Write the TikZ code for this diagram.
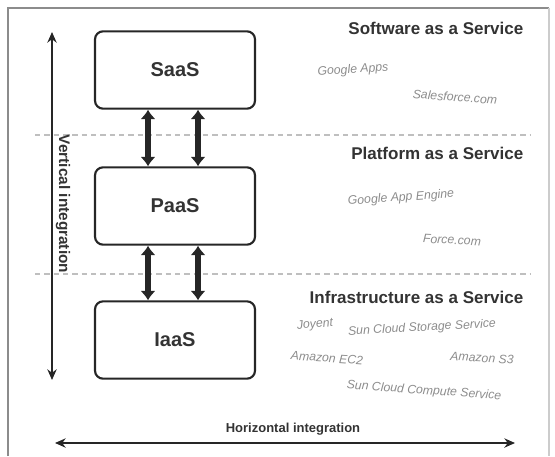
\documentclass[tikz,border=0pt]{standalone}
\usepackage{fontspec}
\setmainfont{Liberation Sans}
\usetikzlibrary{arrows.meta,calc}

\tikzset{
    layerbox/.style={draw=black!85, line width=1.6pt, rounded corners=6pt,
        minimum width=120pt, minimum height=58pt,
        font=\fontsize{15}{17}\selectfont\bfseries, text=black!80},
    heading/.style={anchor=east, font=\fontsize{12.75}{15}\selectfont\bfseries,
        text=black!80},
    vendor/.style={font=\fontsize{9.2}{11}\selectfont\itshape, text=black!45},
    linkarrow/.style={line width=4.4pt, black!85,
        {Latex[length=7pt,width=11.5pt]}-{Latex[length=7pt,width=11.5pt]}},
    axisarrow/.style={line width=1.1pt, black!85,
        {Stealth[length=8pt,width=7pt]}-{Stealth[length=8pt,width=7pt]}},
    layerline/.style={black!25, line width=0.8pt, dash pattern=on 4pt off 3pt},
    axislabel/.style={font=\fontsize{9.75}{12}\selectfont\bfseries, text=black!80}
}

\begin{document}
\begin{tikzpicture}[x=0.75pt, y=-0.75pt]
    \useasboundingbox (0,0) rectangle (555,456);

    % frame
    \draw[black!45, line width=1.6pt]
        (8,456) -- (8,8) -- (549,8);
    \draw[black!20, line width=1.2pt]
        (549,8) -- (549,456);

    % layer separators
    \draw[layerline] (35,135) -- (530,135);
    \draw[layerline] (35,274) -- (530,274);

    % the three layers
    \node[layerbox] (saas) at (175,70) {SaaS};
    \node[layerbox] (paas) at (175,206) {PaaS};
    \node[layerbox] (iaas) at (175,340) {IaaS};

    \draw[linkarrow]
        ($(saas.south)+(-27,0)$) -- ($(paas.north)+(-27,0)$);
    \draw[linkarrow]
        ($(saas.south)+(23,0)$) -- ($(paas.north)+(23,0)$);
    \draw[linkarrow]
        ($(paas.south)+(-27,0)$) -- ($(iaas.north)+(-27,0)$);
    \draw[linkarrow]
        ($(paas.south)+(23,0)$) -- ($(iaas.north)+(23,0)$);

    % integration axes
    \coordinate (vtop) at (52,32);
    \coordinate (vbot) at (52,380);
    \coordinate (hleft) at (55,443);
    \coordinate (hright) at (515,443);
    \draw[axisarrow] (vtop) -- (vbot);
    \draw[axisarrow] (hleft) -- (hright);
    \node[axislabel, rotate=-90, font=\fontsize{11.5}{13}\selectfont\bfseries]
        (vlabel) at (63,204) {Vertical integration};
    \node[axislabel] (hlabel) at (293,429) {Horizontal integration};

    % headings
    \node[heading] (sw) at (528,28) {Software as a Service};
    \node[heading] (pf) at (528,153) {Platform as a Service};
    \node[heading] (inf) at (528,297) {Infrastructure as a Service};

    % examples
    \node[vendor, rotate=4] (gapps) at (353,70) {Google Apps};
    \node[vendor, rotate=-4] (sf) at (455,97) {Salesforce.com};
    \node[vendor, rotate=4] (gae) at (401,198) {Google App Engine};
    \node[vendor, rotate=-3] (force) at (452,240) {Force.com};
    \node[vendor, rotate=5] (joyent) at (315,325) {Joyent};
    \node[vendor, rotate=3] (storage) at (422,328) {Sun Cloud Storage Service};
    \node[vendor, rotate=-4] (ec2) at (327,358) {Amazon EC2};
    \node[vendor, rotate=-3] (s3) at (482,358) {Amazon S3};
    \node[vendor, rotate=-4] (compute) at (424,391) {Sun Cloud Compute Service};
\end{tikzpicture}
\end{document}
